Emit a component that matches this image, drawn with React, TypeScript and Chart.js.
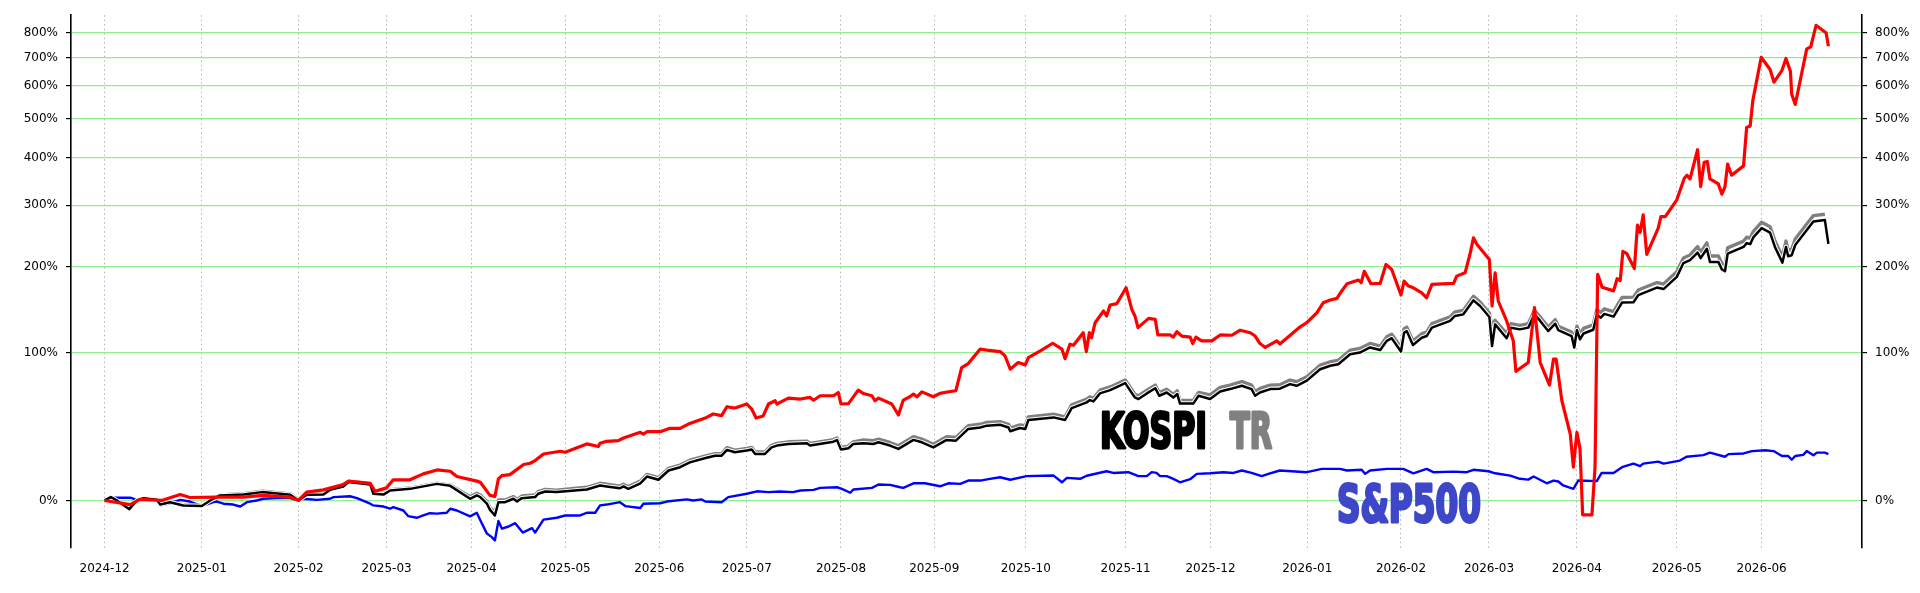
import { useEffect, useRef } from "react";
import { Chart, registerables } from "chart.js";

Chart.register(...registerables);

// x: trading session counted from 2024-12-02, y: cumulative return in %
const MONTH_LABELS = [
  "2024-12", "2025-01", "2025-02", "2025-03", "2025-04", "2025-05", "2025-06",
  "2025-07", "2025-08", "2025-09", "2025-10", "2025-11", "2025-12", "2026-01",
  "2026-02", "2026-03", "2026-04", "2026-05", "2026-06",
];
const MONTH_POS = [
  0, 22, 43.9, 63.8, 83, 104.3, 125.5, 145.3, 166.6, 187.7, 208.4, 231, 250.2,
  272.1, 293.3, 313.2, 333.1, 355.7, 374.9,
];
const Y_TICKS = [0, 100, 200, 300, 400, 500, 600, 700, 800];

const STOCK: [number, number][] = [
  [0, 0], [5.8, -1.9], [8, 0.5], [12.9, 0], [17.1, 2.8], [19.3, 1.4], [25.4, 1.6],
  [31.4, 1.6], [35.9, 2.4], [42, 1.6], [43.9, 0], [45.7, 4], [49.5, 5.1], [54, 7.8],
  [55.2, 9.5], [60.1, 8.4], [61.2, 4.4], [63.8, 6.1], [65.3, 10.2], [69.1, 10.2],
  [72.1, 13.3], [75.2, 15.4], [78.2, 14.7], [79.7, 11.9], [84.2, 9.5], [85, 8.9],
  [87.2, 2.4], [88.3, 1.9], [89.1, 10.7], [89.9, 12.4], [91.7, 12.9], [94.8, 18.4],
  [96.3, 19.1], [97.4, 20.6], [99.3, 24.4], [103.1, 26], [104.2, 25.4], [109.1, 30.4],
  [111.7, 28.8], [112.1, 30.8], [113.6, 32], [116.2, 32.4], [117.4, 34.1], [121.2, 37.7],
  [121.9, 36.6], [122.7, 38.1], [125.7, 38.1], [127.9, 40.3], [130.2, 40.3], [132.4, 43.6],
  [136.2, 47.7], [137.7, 50.1], [139.6, 48.9], [140.8, 55.3], [142.6, 54.3], [145.3, 57.3],
  [146.4, 53.6], [147.4, 47.3], [149, 48.7], [150.2, 57.3], [151.7, 59.7], [152.1, 57.3],
  [154.7, 61.7], [157.4, 61], [159.6, 62.2], [160.4, 60.1], [161.9, 63.5], [164.9, 63.5],
  [166, 66], [166.6, 57.3], [168.3, 57.6], [170.5, 67.9], [171.7, 65.2], [173.6, 63.5],
  [174.3, 59.7], [175.1, 61.7], [178.1, 57.3], [179.6, 49.4], [180.7, 60.2], [182.2, 62.7],
  [183, 64.8], [183.8, 62.7], [184.9, 66.5], [187.5, 62.7], [189, 65.3], [191.3, 66.8],
  [192.6, 67.4], [193.9, 86.6], [195.4, 90.2], [198.1, 103.5], [199.6, 102.6], [202.6, 101.2],
  [203.7, 97.3], [204.9, 85.2], [206.7, 91.1], [208.3, 89], [209, 95.6], [211.7, 101.9],
  [214.5, 109.2], [216.6, 103.5], [217.3, 94.6], [218.4, 108.3], [219.2, 107.3], [221.4, 119.8],
  [222.1, 101.2], [222.8, 119.8], [223.3, 114.7], [224.1, 130.4], [226, 143.4], [226.7, 137.8],
  [227.5, 150.4], [229, 151.9], [231.1, 171.5], [232.4, 145.3], [233.1, 137.8], [233.8, 125.1],
  [236.2, 135.1], [237.7, 134.1], [238.3, 117.5], [241.1, 117.5], [241.8, 115.3], [242.6, 120.9],
  [243.7, 116.4], [245.6, 115.3], [246.2, 108.9], [246.9, 115.3], [248.2, 111.6], [250.5, 111.6],
  [252.4, 117.5], [255, 117.2], [256.9, 122.4], [259.2, 119.8], [260.3, 116.4], [261.4, 108.9],
  [262.6, 105.1], [265.2, 111.6], [265.9, 108.5], [270.5, 126], [272, 130.4], [274.3, 141.5],
  [275.7, 153], [277.3, 156.3], [278.8, 158.3], [279.9, 167.4], [281.1, 176.6], [283.7, 181.5],
  [284.3, 178], [285, 193.3], [286.5, 176.6], [288.6, 177.2], [289.9, 202.9], [291.2, 195.8],
  [293.3, 162.4], [294, 180.1], [295, 173.6], [296.1, 171.4], [298, 165.1], [299.1, 159],
  [300.3, 175.8], [305.2, 177.2], [305.9, 186.7], [307.8, 191.2], [308.9, 217.4], [309.7, 243.2],
  [310.5, 232.6], [313.3, 210], [313.9, 149.2], [314.6, 191.2], [315.3, 155.1], [317.2, 132.3],
  [318.7, 111.6], [319.3, 83.3], [322.1, 91.1], [323.5, 147.2], [324.8, 91.1], [326.9, 71.9],
  [327.8, 94.1], [328.4, 94.1], [329.7, 59.7], [331.6, 36.6], [332.3, 16.9], [333.1, 37.7],
  [333.8, 27.4], [334.4, -6.5], [336.5, -6.5], [337.2, 16.9], [337.8, 189.1], [338.8, 172.2],
  [341.4, 167.5], [342.2, 183.2], [342.9, 180.8], [343.5, 222], [344.4, 218.5], [346.1, 197.2],
  [346.8, 264.3], [347.4, 251.8], [348.1, 282.4], [348.9, 217.6], [351.5, 259.2], [352.1, 279.1],
  [353.1, 279.1], [355.7, 310.3], [357.4, 353.9], [358, 360.5], [358.7, 352.5], [360.4, 419.1],
  [361.1, 336.5], [361.9, 389.5], [362.6, 391.2], [363.2, 352.5], [365.1, 342], [365.9, 321.2],
  [366.6, 336.5], [367.2, 385], [368.1, 360.5], [370.8, 381.1], [371.5, 476.1], [372.3, 480.3],
  [372.9, 553.7], [374.8, 701], [376.8, 656.4], [377.7, 612.7], [379.5, 653.6], [380.4, 696.4],
  [381.4, 649.8], [381.7, 573.5], [382.5, 541.9], [385.1, 733.4], [386, 741], [387.2, 830.6],
  [389.5, 797.8], [390, 743.8],
];

const KOSPI: [number, number][] = [
  [0, 0], [1.4, 1.6], [2.8, 0], [5.6, -4], [7.3, 0], [8.8, 1.1], [11.8, 0.3], [12.6, -1.9],
  [14.8, -0.8], [17.8, -2.3], [22, -2.6], [23.9, 0], [26.1, 2.4], [31.4, 2.8], [35.6, 4],
  [42, 2.7], [43.9, 0], [45.7, 2.7], [49.5, 2.8], [51, 5.1], [54, 6.8], [55.2, 9],
  [60.1, 7.8], [60.8, 3.2], [63.1, 2.8], [64.6, 4.8], [69.1, 5.6], [75.2, 8.1], [78.2, 7.1],
  [82.7, 0.8], [84.2, 2.4], [85, 1.6], [86.5, -1.5], [87.2, -4.3], [88.3, -6.8], [89.1, -0.8],
  [90.6, -0.8], [92.5, 0.8], [93.3, -0.5], [94.4, 1.1], [97.4, 1.6], [98.1, 3.2], [99.7, 4.3],
  [102.3, 4], [109.1, 5.3], [112.1, 7.3], [113.6, 6.8], [116.6, 5.9], [117.4, 6.8], [118.5, 5.6],
  [121.2, 8.4], [122.7, 11.9], [125.3, 10.2], [127.6, 15.1], [130.2, 16.9], [132.4, 19.6],
  [136.2, 22.2], [138.1, 23.4], [139.6, 23.4], [140.8, 26.8], [142.6, 25.4], [145.3, 26.4],
  [146.4, 27], [147.2, 24.4], [149.4, 24.4], [150.9, 28.3], [152.1, 29.4], [154.7, 30.4],
  [158.9, 30.8], [159.6, 29.4], [164.9, 31.8], [165.7, 32.8], [166.6, 27], [168.3, 27.8],
  [169.4, 30.4], [171.7, 30.8], [173.9, 30.4], [175.1, 31.4], [177.7, 29.4], [179.6, 27.4],
  [183, 32.9], [184.9, 31.4], [187.5, 28.3], [190.5, 32.9], [192.6, 32.4], [195.4, 39.9],
  [198.1, 40.9], [199.6, 42.1], [202.6, 42.7], [204.5, 40.9], [204.9, 38.4], [207.1, 40.5],
  [208.3, 39.9], [209, 45.9], [214.7, 47.7], [217.3, 45.9], [218.8, 54.3], [222.2, 58.5],
  [222.9, 60.2], [223.7, 59.2], [225.2, 65.3], [227.5, 67.9], [229.7, 71.4], [230.9, 73.5],
  [233.1, 62.2], [233.9, 61], [235.8, 65.3], [237.7, 69.4], [238.6, 63.5], [240.3, 66],
  [241.8, 62.2], [242.7, 64.8], [243.3, 57.6], [246.3, 57.6], [247.5, 63.5], [250.1, 61],
  [252.4, 66.8], [254.6, 68.7], [257.3, 71.4], [259.5, 68.7], [260.3, 63.5], [261.4, 66],
  [263.7, 68.7], [265.9, 69], [268.2, 72.7], [269.7, 71.3], [272, 75.5], [275, 85.2],
  [277.3, 88.2], [279.1, 89.5], [281.8, 98.7], [284, 100.3], [286.3, 105.1], [288.6, 102.6],
  [290.1, 111.6], [291.2, 114.2], [293.3, 101.2], [294, 119.8], [294.6, 121.5], [296, 107.5],
  [298, 114.7], [299.1, 116.4], [300.3, 125.1], [304.4, 132.3], [305.5, 137.8], [307.4, 139.6],
  [309.7, 155.9], [311.2, 149.2], [313.3, 136.6], [313.9, 106.5], [314.6, 128.6], [317.2, 114.2],
  [318.2, 125.1], [320.2, 123.3], [322.1, 125.1], [323.5, 139.6], [324.8, 132.3], [326.6, 121.5],
  [328.2, 129.3], [328.9, 122.4], [331.9, 116.4], [332.5, 105.1], [333.1, 122.4], [333.8, 113.2],
  [334.6, 119], [336.8, 122.9], [337.6, 139.2], [338.5, 135.9], [339.3, 140.1], [341.4, 137.1],
  [343.3, 153.2], [345.9, 153.7], [347, 162.3], [348.1, 164.7], [351.2, 171.7], [352.7, 169.8],
  [355.7, 185.7], [357.2, 204.9], [358.7, 209.2], [360.4, 220.3], [361.1, 211.9], [362.5, 226.1],
  [363.2, 206.5], [365.1, 206.5], [365.9, 195.8], [366.6, 193.3], [367.2, 218.5], [370.8, 228.8],
  [371.5, 234.8], [372.3, 233.1], [373, 243.8], [374.9, 259.2], [376.8, 251.8], [377.9, 228.8],
  [379.6, 205.5], [380.4, 228.8], [380.9, 214.7], [381.7, 216.3], [382.5, 231.8], [386.6, 270.5],
  [389.2, 273], [390, 233.6],
];

const KOSPI_TR: [number, number][] = [
  [0, 0], [1.4, 1.6], [2.8, 0], [5.6, -3.6], [7.3, 0.1], [8.8, 1.2], [11.8, 0.4], [12.6, -1.7],
  [14.8, -0.6], [17.8, -2], [22, -2.3], [23.9, 0.2], [26.1, 2.6], [31.4, 3.2], [35.6, 4.4],
  [42, 3.1], [43.9, 0.4], [45.7, 3.1], [49.5, 3.2], [51, 5.5], [54, 7.2], [55.2, 9.4],
  [60.1, 8.2], [60.8, 3.6], [63.1, 3.2], [64.6, 5.2], [69.1, 6], [75.2, 8.5], [78.2, 7.5],
  [82.7, 1.8], [84.2, 3.4], [85, 2.6], [86.5, -0.5], [87.2, -3.3], [88.3, -5.5], [89.1, 0.2],
  [90.6, 0.2], [92.5, 1.8], [93.3, 0.5], [94.4, 2.1], [97.4, 2.6], [98.1, 4.2], [99.7, 5.3],
  [102.3, 5], [109.1, 6.4], [112.1, 8.4], [113.6, 7.9], [116.6, 7], [117.4, 7.9], [118.5, 6.7],
  [121.2, 9.5], [122.7, 13], [125.3, 11.3], [127.6, 16.3], [130.2, 18.1], [132.4, 20.8],
  [136.2, 23.4], [138.1, 24.6], [139.6, 24.6], [140.8, 28.1], [142.6, 26.7], [145.3, 27.7],
  [146.4, 28.3], [147.2, 25.6], [149.4, 25.6], [150.9, 29.6], [152.1, 30.7], [154.7, 31.7],
  [158.9, 32.1], [159.6, 30.7], [164.9, 33.1], [165.7, 34.1], [166.6, 28.3], [168.3, 29.1],
  [169.4, 31.7], [171.7, 32.8], [173.9, 32.4], [175.1, 33.4], [177.7, 31.3], [179.6, 29.3],
  [183, 34.9], [184.9, 33.4], [187.5, 30.2], [190.5, 34.9], [192.6, 34.4], [195.4, 42],
  [198.1, 43], [199.6, 44.2], [202.6, 44.8], [204.5, 43], [204.9, 40.5], [207.1, 42.6],
  [208.3, 42], [209, 48.1], [214.7, 49.9], [217.3, 48.1], [218.8, 56.6], [222.2, 60.9],
  [222.9, 62.6], [223.7, 61.6], [225.2, 67.8], [227.5, 70.4], [229.7, 74], [230.9, 76.1],
  [233.1, 64.6], [233.9, 63.4], [235.8, 67.8], [237.7, 71.9], [238.6, 66], [240.3, 68.5],
  [241.8, 64.6], [242.7, 67.3], [243.3, 60], [246.3, 60], [247.5, 66], [250.1, 64.1],
  [252.4, 70], [254.6, 71.9], [257.3, 74.7], [259.5, 71.9], [260.3, 66.6], [261.4, 69.2],
  [263.7, 71.9], [265.9, 72.2], [268.2, 76], [269.7, 74.6], [272, 78.8], [275, 88.7],
  [277.3, 91.8], [279.1, 93.1], [281.8, 102.5], [284, 104.1], [286.3, 109], [288.6, 106.4],
  [290.1, 115.6], [291.2, 118.3], [293.3, 105], [294, 124], [294.6, 125.7], [296, 111.4],
  [298, 118.8], [299.1, 120.5], [300.3, 129.4], [304.4, 136.7], [305.5, 142.3], [307.4, 144.1],
  [309.7, 160.8], [311.2, 153.9], [313.3, 141.1], [313.9, 126], [314.6, 133], [317.2, 119],
  [318.2, 129.4], [320.2, 127.5], [322.1, 129.4], [323.5, 144.2], [324.8, 136.7], [326.6, 125.7],
  [328.2, 133.7], [328.9, 126.6], [331.9, 120.5], [332.5, 113], [333.1, 126.6], [333.8, 118.3],
  [334.6, 124.3], [336.8, 128.2], [337.6, 144.9], [338.5, 141.6], [339.3, 145.9], [341.4, 142.8],
  [343.3, 159.3], [345.9, 159.8], [347, 168.6], [348.1, 171.1], [351.2, 178.2], [352.7, 176.3],
  [355.7, 192.6], [357.2, 212.2], [358.7, 216.6], [360.4, 229.3], [361.1, 220.6], [362.5, 235.2],
  [363.2, 215.1], [365.1, 215.1], [365.9, 204.1], [366.6, 201.5], [367.2, 227.4], [370.8, 238],
  [371.5, 244.2], [372.3, 242.4], [373, 253.4], [374.9, 269.3], [376.8, 261.7], [377.9, 238],
  [379.6, 214.1], [380.4, 238], [380.9, 223.5], [381.7, 225.2], [382.5, 241.1], [386.6, 280.9],
  [389.2, 283.4],
];

const SP500: [number, number][] = [
  [0, 0], [2, 1.3], [5.8, 1.3], [7.3, 0.3], [8.8, 1.1], [11.8, 0.3], [12.6, -2.3], [14.8, -1.3],
  [17.1, 0.3], [19.3, -0.5], [22, -2.6], [24.6, -0.8], [25.4, -0.5], [26.9, -1.5], [29.1, -1.9],
  [30.7, -2.8], [32.2, -0.8], [34.4, 0], [35.9, 0.8], [39, 1.1], [42, 1.1], [43.9, 0],
  [45, 0.8], [48, 0.3], [51, 0.8], [51.8, 1.6], [55.5, 2], [57.1, 1.1], [60.1, -1.5],
  [60.8, -2.3], [63.1, -2.8], [64.6, -3.8], [65.3, -3.1], [67.6, -4.6], [68.7, -7.1],
  [70.6, -7.8], [72.1, -6.8], [73.6, -5.8], [75.2, -6], [77.4, -5.6], [78.2, -3.8], [79.7, -4.6],
  [82.7, -7.2], [84.2, -5.6], [85, -8.9], [86.5, -14.4], [87.6, -15.8], [88.3, -17.1],
  [89.1, -9.2], [89.9, -12.4], [91.4, -11.5], [92.9, -10.1], [94.6, -14], [96.7, -12.2],
  [97.4, -14], [99.3, -8.6], [102.3, -7.8], [104.2, -6.8], [107.6, -6.8], [109.1, -5.6],
  [111, -5.6], [112.1, -2.3], [113.6, -1.9], [116.6, -0.8], [117.8, -2.6], [121.2, -3.5],
  [121.9, -1.5], [125.7, -1.3], [127.2, -0.5], [131.7, 0.5], [133.2, 0], [135.1, 0.5],
  [135.9, -0.5], [139.6, -0.8], [141.1, 1.6], [145.3, 3.2], [147.6, 4.4], [150.2, 4],
  [152.8, 4.3], [155.8, 4], [157.4, 4.8], [160.4, 5.1], [161.9, 6.1], [165.7, 6.4],
  [166.8, 5.6], [168.7, 3.7], [169.4, 5.3], [173.6, 6.1], [175.1, 7.8], [177.7, 7.6],
  [180, 6.4], [180.7, 6.1], [183, 8.4], [185.6, 8.4], [189, 6.9], [190.9, 8.4], [193.6, 8.1],
  [195.4, 9.8], [198.1, 9.8], [200.3, 10.7], [202.6, 11.5], [204.9, 10.2], [208.6, 12.1],
  [214.7, 12.4], [216.6, 8.9], [217.7, 11.2], [220.7, 10.7], [222.2, 12.3], [226.7, 14.7],
  [228.2, 13.8], [231.6, 14.2], [233.9, 12.1], [235.8, 12.1], [236.9, 14.2], [238, 13.8],
  [238.8, 12.1], [240.3, 12.1], [241.8, 10.7], [243.3, 8.9], [245.6, 10.5], [247.1, 13.3],
  [250.1, 13.6], [253.1, 14.2], [255.4, 13.8], [257.3, 15.1], [259.5, 13.8], [261.8, 12.1],
  [263.3, 13.3], [265.9, 15.1], [272, 14.2], [275.4, 16], [279.5, 16], [281.1, 15.1],
  [284.4, 15.5], [285.2, 13.3], [286.3, 15.1], [290.1, 16], [293.8, 16], [296.1, 13.6],
  [299.1, 16], [300.6, 14.2], [305.2, 14.5], [308.2, 14.2], [309.7, 15.5], [313.1, 14.7],
  [314.6, 13.6], [318, 12.4], [320.2, 10.7], [322.1, 10.3], [323.3, 11.9], [326.3, 8.4],
  [327.8, 9.8], [328.9, 9.3], [330, 7.3], [332.3, 5.6], [333.4, 9.8], [337.6, 9.5],
  [338.7, 13.8], [341.4, 13.8], [343.3, 16.9], [345.9, 18.9], [347.4, 17.5], [348.1, 18.9],
  [351.5, 20], [352.7, 18.9], [356.4, 20.6], [357.9, 22.8], [361.7, 23.7], [363.2, 25.2],
  [366.6, 22.8], [367.4, 24.3], [370.8, 24.7], [372.7, 26.1], [375.7, 26.6], [377.6, 26.1],
  [379.5, 23.2], [380.9, 23.2], [381.7, 21.1], [382.5, 23.2], [384.3, 23.9], [385.1, 26.1],
  [386.6, 23.7], [387.4, 25.2], [389.2, 25.2], [390, 24.3],
];

const FONT = "'DejaVu Sans', sans-serif";
const WORD_FONT = "'Liberation Sans Narrow', 'DejaVu Sans Condensed', sans-serif";

const toPoints = (rows: [number, number][]) =>
  rows.map(([d, p]) => ({ x: d, y: 1 + p / 100 }));

// heavy condensed word squeezed to a given width, left/baseline anchored
function drawWord(ctx, text, left, baseline, width, size, color) {
  ctx.save();
  ctx.font = `bold ${size}px ${WORD_FONT}`;
  const w = ctx.measureText(text).width;
  ctx.translate(left, baseline);
  ctx.scale(width / w, 1);
  ctx.fillStyle = color;
  ctx.strokeStyle = color;
  ctx.lineWidth = 3;
  ctx.lineJoin = "round";
  ctx.fillText(text, 0, 0);
  ctx.strokeText(text, 0, 0);
  ctx.restore();
}

const wordsPlugin = {
  id: "words",
  afterDatasetsDraw(chart) {
    const { ctx } = chart;
    const x = chart.scales.x;
    const y = chart.scales.y;
    const kBase = y.getPixelForValue(1.28);
    drawWord(ctx, "KOSPI", x.getPixelForValue(225.2), kBase, 107, 49, "#000000");
    drawWord(ctx, "TR", x.getPixelForValue(254.6), kBase, 42, 49, "#808080");
    drawWord(ctx, "S&P500", x.getPixelForValue(278.8), y.getPixelForValue(0.905), 144, 52, "#3d47c8");
  },
};

function yAxis(position: "left" | "right", width: number) {
  return {
    type: "logarithmic",
    position,
    min: 0.8,
    max: 9.76,
    afterBuildTicks: (s) => {
      s.ticks = Y_TICKS.map((p) => ({ value: 1 + p / 100 }));
    },
    afterFit: (s) => {
      s.width = width;
    },
    ticks: {
      padding: 8,
      color: "#000",
      font: { family: FONT, size: 12 },
      callback: (v) => `${Math.round((v - 1) * 100)}%`,
    },
    grid: {
      drawOnChartArea: position === "left",
      color: "#90ee90",
      lineWidth: 1.2,
      tickLength: 5,
      tickColor: "#000",
      tickWidth: 1.2,
    },
    border: { display: true, color: "#000", width: 1.6 },
  };
}

export default function App() {
  const canvasRef = useRef<HTMLCanvasElement>(null);
  const chartRef = useRef<Chart | null>(null);

  useEffect(() => {
    if (!canvasRef.current) return;
    if (chartRef.current) chartRef.current.destroy();

    const line = { pointRadius: 0, tension: 0, fill: false, borderJoinStyle: "round" };

    chartRef.current = new Chart(canvasRef.current, {
      type: "line",
      data: {
        datasets: [
          { ...line, label: "Stock", data: toPoints(STOCK), borderColor: "#ff0000", borderWidth: 3.2 },
          { ...line, label: "KOSPI", data: toPoints(KOSPI), borderColor: "#000000", borderWidth: 2.5 },
          { ...line, label: "KOSPI edge", data: toPoints(KOSPI), borderColor: "#ffffff", borderWidth: 4.5 },
          { ...line, label: "KOSPI TR", data: toPoints(KOSPI_TR), borderColor: "#808080", borderWidth: 3.4 },
          { ...line, label: "S&P500", data: toPoints(SP500), borderColor: "#0000ff", borderWidth: 2.4 },
        ],
      },
      options: {
        animation: false,
        responsive: true,
        maintainAspectRatio: false,
        events: [],
        layout: { padding: { top: 13, left: 0, right: 0, bottom: 0 } },
        plugins: { legend: { display: false }, tooltip: { enabled: false } },
        scales: {
          x: {
            type: "linear",
            min: -7.6,
            max: 397.6,
            afterBuildTicks: (s) => {
              s.ticks = MONTH_POS.map((v) => ({ value: v }));
            },
            afterFit: (s) => {
              s.height = 45;
            },
            ticks: {
              autoSkip: false,
              maxRotation: 0,
              padding: 14,
              color: "#000",
              font: { family: FONT, size: 12 },
              callback: (_v, i) => MONTH_LABELS[i],
            },
            grid: { color: "#b4b4b4", lineWidth: 1, drawTicks: false },
            border: { display: false, dash: [1.5, 3] },
          },
          y: yAxis("left", 71),
          y2: yAxis("right", 58),
        },
      },
      plugins: [wordsPlugin],
    });

    return () => chartRef.current?.destroy();
  }, []);

  return (
    <div style={{ position: "absolute", left: 0, top: 0, width: 1920, height: 593, background: "#fff" }}>
      <canvas ref={canvasRef} />
    </div>
  );
}
